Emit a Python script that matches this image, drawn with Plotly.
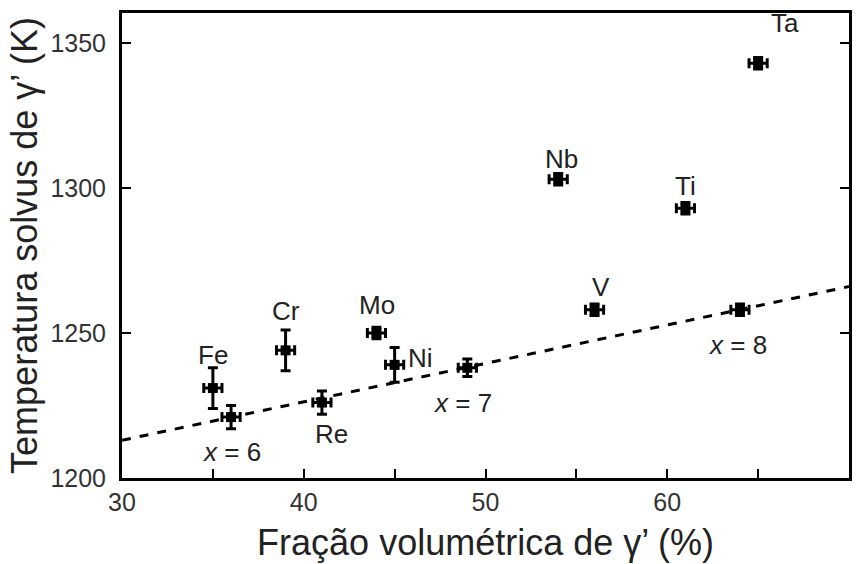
import plotly.graph_objects as go

# Data
labels = ["Fe", "x = 6", "Cr", "Re", "Mo", "Ni", "x = 7", "Nb", "V", "Ti", "x = 8", "Ta"]
frac = [35.0, 36.0, 39.0, 41.0, 44.0, 45.0, 49.0, 54.0, 56.0, 61.0, 64.0, 65.0]
temp = [1231, 1221, 1244, 1226, 1250, 1239, 1238, 1303, 1258, 1293, 1258, 1343]
temp_err = [7, 4, 7, 4, 2, 6, 3, 2, 2, 2, 2, 2]
frac_err = [0.5, 0.5, 0.5, 0.5, 0.5, 0.5, 0.5, 0.5, 0.5, 0.5, 0.5, 0.5]

# Dashed trend line endpoints
fit_x = [30, 70]
fit_y = [1213, 1266]

# Label positions (data coords)
label_text = ["Fe", "<i>x</i> = 6", "Cr", "Re", "Mo", "Ni", "<i>x</i> = 7", "Nb", "V", "Ti", "<i>x</i> = 8", "Ta"]
label_x = [35.0, 36.0, 39.05, 41.55, 44.05, 46.45, 48.75, 54.2, 56.35, 61.0, 63.85, 66.5]
label_y = [1242.5, 1209.0, 1257.5, 1215.0, 1259.5, 1241.5, 1226.0, 1310.0, 1266.0, 1300.5, 1246.0, 1357.0]

x_tick_vals = [30, 35, 40, 45, 50, 55, 60, 65, 70]
x_tick_text = ["30", "", "40", "", "50", "", "60", "", "70"]
y_tick_vals = [1200, 1250, 1300, 1350]

FONT = "Liberation Sans, Arial, sans-serif"

fig = go.Figure()
fig.add_trace(go.Scatter(
    x=fit_x, y=fit_y, mode="lines",
    line=dict(color="black", width=3, dash="dash"),
    showlegend=False, hoverinfo="skip"))
fig.add_trace(go.Scatter(
    x=frac, y=temp, mode="markers",
    marker=dict(symbol="square", size=10, color="black"),
    error_y=dict(type="data", array=temp_err, color="black", thickness=3, width=5),
    error_x=dict(type="data", array=frac_err, color="black", thickness=3, width=5),
    showlegend=False))

for t, x, y in zip(label_text, label_x, label_y):
    fig.add_annotation(x=x, y=y, text=t, showarrow=False,
                       font=dict(family=FONT, size=26, color="#222"))

fig.update_layout(
    width=860, height=564,
    margin=dict(l=122, r=8, t=13, b=85),
    paper_bgcolor="white", plot_bgcolor="white",
    font=dict(family=FONT, color="#222"),
)
fig.update_xaxes(
    range=[30, 70], tickvals=x_tick_vals, ticktext=x_tick_text,
    ticks="inside", ticklen=9, tickwidth=2, tickcolor="black",
    showline=True, linecolor="black", linewidth=3, mirror=True,
    showgrid=False, zeroline=False,
    tickfont=dict(family=FONT, size=25, color="#333"),
    title=dict(text="Fração volumétrica de γ’ (%)", font=dict(family=FONT, size=36, color="#222"), standoff=15),
)
fig.update_yaxes(
    range=[1200, 1360.3], tickvals=y_tick_vals,
    ticks="inside", ticklen=9, tickwidth=2, tickcolor="black",
    showline=True, linecolor="black", linewidth=3, mirror="ticks",
    showgrid=False, zeroline=False,
    tickfont=dict(family=FONT, size=25, color="#333"),
    ticklabelstandoff=8,
    title=dict(text="Temperatura solvus de γ’ (K)", font=dict(family=FONT, size=36, color="#222"), standoff=2),
)

fig.write_html("out.html")
